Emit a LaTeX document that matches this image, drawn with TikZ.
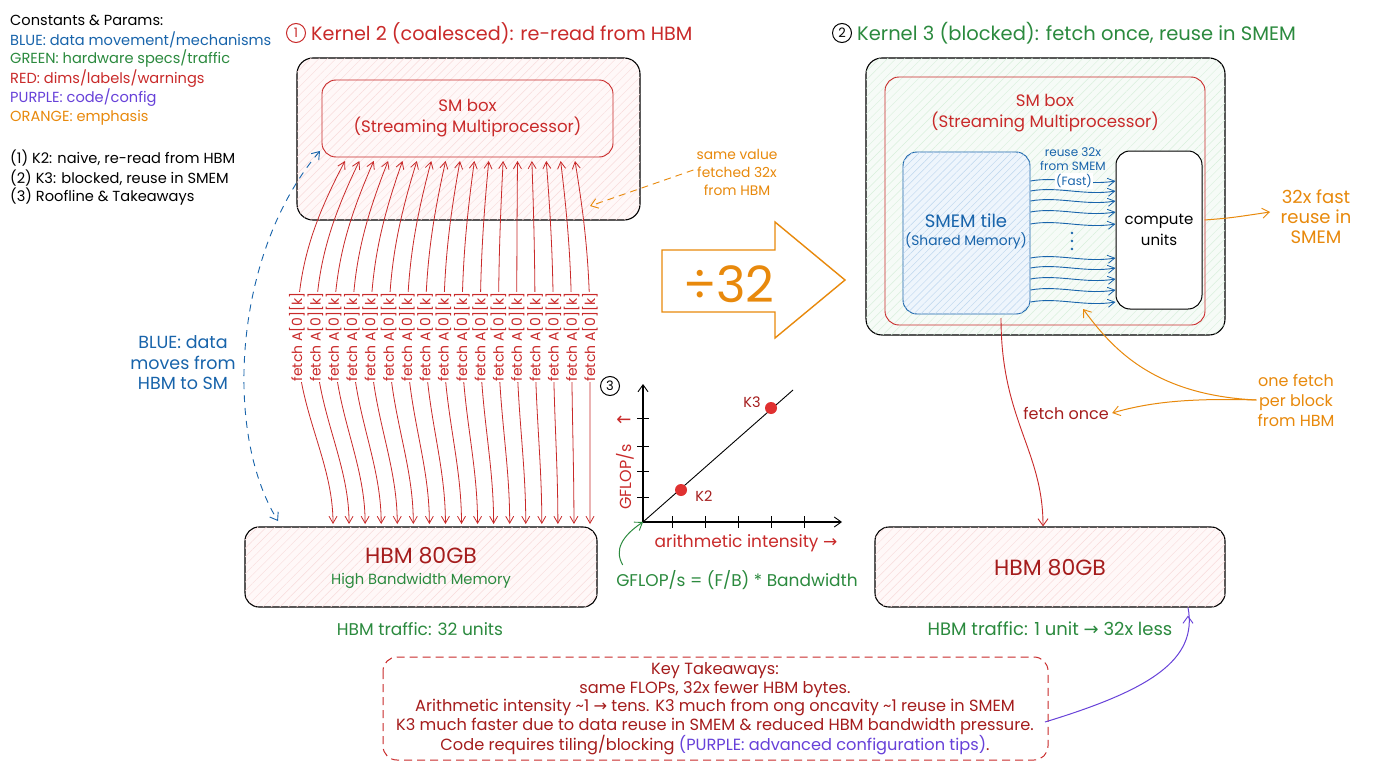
\documentclass[tikz,border=0pt]{standalone}
\usepackage{fontspec}
\setmainfont{Poppins}
\newfontfamily\symf{DejaVu Sans}
\usetikzlibrary{patterns.meta,arrows.meta,calc}
\definecolor{cred}{HTML}{C92A2A}
\definecolor{dred}{HTML}{A51D1D}
\definecolor{cgreen}{HTML}{2B8A3E}
\definecolor{cblue}{HTML}{1864AB}
\definecolor{cpurple}{HTML}{6741D9}
\definecolor{corange}{HTML}{E8890C}
\definecolor{pinkbg}{HTML}{FFF8F8}
\definecolor{pinkhatch}{HTML}{F8DADA}
\definecolor{greenbg}{HTML}{F6FBF7}
\definecolor{greenhatch}{HTML}{D8EFDC}
\definecolor{bluebg}{HTML}{EEF5FC}
\definecolor{bluehatch}{HTML}{BCD6EE}
\definecolor{dotred}{HTML}{E03131}
\newcommand{\fs}[2]{\fontsize{#1}{#2}\selectfont}
\tikzset{
  pinkbox/.style={draw=black, line width=1.1pt, rounded corners=16pt, fill=pinkbg,
    postaction={pattern={Lines[angle=45,distance=6pt,line width=0.45pt]}, pattern color=pinkhatch}},
  greenbox/.style={draw=black, line width=1.1pt, rounded corners=16pt, fill=greenbg,
    postaction={pattern={Lines[angle=45,distance=6pt,line width=0.45pt]}, pattern color=greenhatch}},
  redbox/.style={draw=cred, line width=0.9pt, rounded corners=14pt},
  bluebox/.style={draw=cblue, line width=0.9pt, rounded corners=14pt, fill=bluebg,
    postaction={pattern={Lines[angle=45,distance=5pt,line width=0.45pt]}, pattern color=bluehatch}},
  blackbox/.style={draw=black, line width=1pt, rounded corners=14pt, fill=white},
  barb/.tip={Straight Barb[length=7pt,width=10pt,line width=0.9pt]},
  sbarb/.tip={Straight Barb[length=7pt,width=8pt,line width=0.8pt]},
  fetchline/.style={draw=cred, line width=0.8pt, sbarb-sbarb},
  fetchlbl/.style={text=cred, font=\fs{14}{14}, rotate=90, fill=white, inner sep=0.4pt},
  legend/.style={anchor=west, inner sep=0pt, font=\fs{14.6}{18}},
  ann/.style={font=\fs{16}{20}, align=center, inner sep=1pt},
  circnum/.style={draw=black, circle, line width=1pt, inner sep=1pt, minimum size=19pt, font=\fs{13}{13}},
  waveline/.style={draw=cblue, line width=0.9pt, -sbarb},
}
\begin{document}
\begin{tikzpicture}[x=1pt,y=-1pt]
\useasboundingbox (0,0) rectangle (1376,768);
\fill[white] (0,0) rectangle (1376,768);

% ---------- legend ----------
\node[legend] (lg0) at (10,20) {Constants \& Params:};
\node[legend, text=cblue] (lg1) at (10,40) {BLUE: data movement/mechanisms};
\node[legend, text=cgreen] (lg2) at (10,59) {GREEN: hardware specs/traffic};
\node[legend, text=cred] (lg3) at (10,79) {RED: dims/labels/warnings};
\node[legend, text=cpurple] (lg4) at (10,98) {PURPLE: code/config};
\node[legend, text=corange] (lg5) at (10,118) {ORANGE: emphasis};
\node[legend] (lg6) at (10,158) {(1) K2: naive, re-read from HBM};
\node[legend] (lg7) at (10,178) {(2) K3: blocked, reuse in SMEM};
\node[legend] (lg8) at (10,197) {(3) Roofline \& Takeaways};

% ---------- kernel 2 ----------
\node[circnum, text=cred, draw=cred] (c1) at (296,33) {1};
\node[anchor=west, text=cred, font=\fs{19.2}{22}, inner sep=0pt] (t1) at (311,33) {Kernel 2 (coalesced): re-read from HBM};

\node[pinkbox, minimum width=343, minimum height=162] (k2out) at (468.5,139) {};
\node[redbox, minimum width=291, minimum height=77, align=center, text=cred, font=\fs{16.6}{21}] (k2sm) at (467.5,118.5) {SM box\\(Streaming Multiprocessor)};

\node[pinkbox, minimum width=352, minimum height=80, rounded corners=14pt] (hbmL) at (421,567) {};
\node[text=dred, font=\fs{22}{24}] (hbmLt) at (421,556) {HBM 80GB};
\node[text=cgreen, font=\fs{14.7}{18}] (hbmLs) at (421,581) {High Bandwidth Memory};
\node[text=cgreen, font=\fs{17}{18}] (trafL) at (420,629) {HBM traffic: 32 units};

\foreach \i in {0,...,16}{
  \pgfmathsetmacro{\xt}{345+\i*230/16}
  \pgfmathsetmacro{\xm}{297+\i*293/16}
  \pgfmathsetmacro{\xb}{333+\i*257/16}
  \pgfmathsetmacro{\xc}{\xt+(\xm-\xt)*0.7}
  \coordinate (ft\i) at (\xt,161);
  \coordinate (fb\i) at (\xb,524);
  \draw[fetchline] (ft\i) .. controls (\xc,225) and (\xm,270) .. (\xm,337) .. controls (\xm,410) and (\xb,460) .. (fb\i);
  \node[fetchlbl] (fl\i) at (\xm,337) {fetch A[0][k]};
}

% blue dashed
\coordinate (bd1) at (320,151);
\coordinate (bd2) at (278,521);
\draw[cblue, line width=0.9pt, dashed, dash pattern=on 7pt off 6pt, barb-barb] (bd1) .. controls (235,250) and (222,430) .. (bd2);
\node[ann, text=cblue, font=\fs{17.5}{20.5}] (bluetxt) at (183,363) {BLUE: data\\moves from\\HBM to SM};

% orange dashed
\node[ann, text=corange, font=\fs{13.8}{18}] (samev) at (737,172) {same value\\fetched 32x\\from HBM};
\coordinate (od) at (590,206);
\draw[corange, line width=0.9pt, dashed, dash pattern=on 7pt off 5pt, -barb] (samev.west) ++(-2,-2) -- (od);

% big arrow
\draw[corange, line width=1.4pt, line join=miter] (662,250) -- (775,250) -- (775,222) -- (845,280) -- (775,338) -- (775,312) -- (662,312) -- cycle;
\node[text=corange, font=\fs{50}{50}] (div) at (729,284) {÷32};

% ---------- kernel 3 ----------
\node[circnum] (c2) at (842,33) {2};
\node[anchor=west, text=cgreen, font=\fs{19.5}{22}, inner sep=0pt] (t2) at (857,33) {Kernel 3 (blocked): fetch once, reuse in SMEM};

\node[greenbox, minimum width=359, minimum height=277] (k3out) at (1045.5,196.5) {};
\node[redbox, minimum width=320, minimum height=248] (k3sm) at (1045,201) {};
\node[text=cred, font=\fs{16.6}{21}, align=center] (k3smt) at (1045,113) {SM box\\(Streaming Multiprocessor)};

\node[bluebox, minimum width=127, minimum height=162] (smem) at (966.5,233) {};
\node[text=cblue, font=\fs{18}{19}] (smemt) at (966,221) {SMEM tile};
\node[text=cblue, font=\fs{13.8}{14}] (smems) at (966,241) {(Shared Memory)};

\node[blackbox, minimum width=86, minimum height=158, align=center, font=\fs{15}{21}] (cu) at (1159,230) {compute\\units};

\node[text=cblue, font=\fs{12}{14}, align=center] (reuse) at (1073,159) {reuse 32x\\from SMEM};
\foreach \y [count=\k] in {181,191,201,212,224,258,268,279,290,302}{
  \coordinate (ws\k) at (smem.east |- 0,\y);
  \coordinate (we\k) at (cu.west |- 0,\y);
  \draw[waveline] (ws\k) .. controls (1058,\y-5) and (1085,\y+5) .. (we\k);
}
\node[text=cblue, font=\fs{12}{13}, fill=white, inner sep=1pt] (fast) at (1074,181) {(Fast)};
\foreach \yy in {233,241,249}{\fill[cblue] (1072,\yy) circle (1.4pt);}

\node[ann, text=corange, font=\fs{18}{20}] (fastre) at (1316,217) {32x fast\\reuse in\\SMEM};
\coordinate (fre) at (1270,212);
\draw[corange, line width=1pt, -barb] (cu.east) ++(2,-10) .. controls (1230,218) .. (fre);

\node[pinkbox, minimum width=350, minimum height=80, rounded corners=14pt] (hbmR) at (1050,567) {};
\node[text=dred, font=\fs{22}{24}] (hbmRt) at (1050,568) {HBM 80GB};
\node[text=cgreen, font=\fs{18}{18}] (trafR) at (1050,629) {HBM traffic: 1 unit {\symf→} 32x less};

\coordinate (fo1) at (1001,318);
\draw[cred, line width=0.9pt, -barb] (fo1) .. controls (1001,420) and (1043,450) .. (hbmR.north -| 1043,0);
\node[text=dred, font=\fs{16}{18}] (fetchonce) at (1066,413) {fetch once};

\node[ann, text=corange] (onefetch) at (1296,400) {one fetch\\per block\\from HBM};
\coordinate (of1) at (1083,309);
\draw[corange, line width=1pt, -barb] (onefetch.west) .. controls (1150,395) and (1110,345) .. (of1);
\draw[corange, line width=1pt, -barb] (onefetch.west) .. controls (1190,398) and (1150,402) .. (fetchonce.east);

% ---------- roofline ----------
\node[circnum] (c3) at (610,386) {3};
\coordinate (org) at (643,522);
\coordinate (ytop) at (643,384);
\coordinate (xend) at (842,522);
\draw[line width=1.1pt, -barb] (org) -- (ytop);
\draw[line width=1.1pt, -barb] (org) -- (xend);
\foreach \yy in {418,446,471,497}{\draw[line width=1pt] (637,\yy) -- (649,\yy);}
\foreach \xx in {672,705,738,771,804}{\draw[line width=1pt] (\xx,516) -- (\xx,528);}
\coordinate (lend) at (793,390);
\draw[line width=0.9pt] (org) -- (lend);
\node[circle, fill=dotred, minimum size=12pt, inner sep=0pt] (k2d) at (681,490) {};
\node[circle, fill=dotred, minimum size=12pt, inner sep=0pt] (k3d) at (771,408) {};
\node[text=dred, font=\fs{14.5}{16}] (k2l) at (704,496) {K2};
\node[text=dred, font=\fs{14.5}{16}] (k3l) at (752,402) {K3};
\node[text=cred, font=\fs{16}{16}, rotate=90] (gfl) at (625,477) {GFLOP/s};
\node[text=cred, font=\fs{18}{18}] (gfla) at (624,421) {\symf←};
\node[text=cred, font=\fs{17}{18}] (ai) at (746,543) {arithmetic intensity {\symf→}};
\node[text=cgreen, font=\fs{17}{18}] (eq) at (737,580) {GFLOP/s = (F/B) * Bandwidth};
\draw[cgreen, line width=1pt, -barb] (eq.north west) ++(10,-2) .. controls (614,550) and (622,536) .. (org);

% ---------- takeaways ----------
\draw[cred, line width=1pt, dashed, dash pattern=on 8pt off 5pt, rounded corners=14pt] (383,657) rectangle (1048,760);
\node[text=dred, font=\fs{16.2}{18.5}, align=center] (tk) at (715,709) {Key Takeaways:\\same FLOPs, 32x fewer HBM bytes.\\Arithmetic intensity \textasciitilde1 {\symf→} tens. K3 much from ong oncavity \textasciitilde1 reuse in SMEM\\K3 much faster due to data reuse in SMEM \& reduced HBM bandwidth pressure.\\Code requires tiling/blocking {\color{cpurple}(PURPLE: advanced configuration tips)}.};
\coordinate (pp1) at (1045,722);
\draw[cpurple, line width=1pt, -barb] (pp1) .. controls (1150,690) and (1198,660) .. (hbmR.south east -| 1188,0) ++(0,8);
\end{tikzpicture}
\end{document}
